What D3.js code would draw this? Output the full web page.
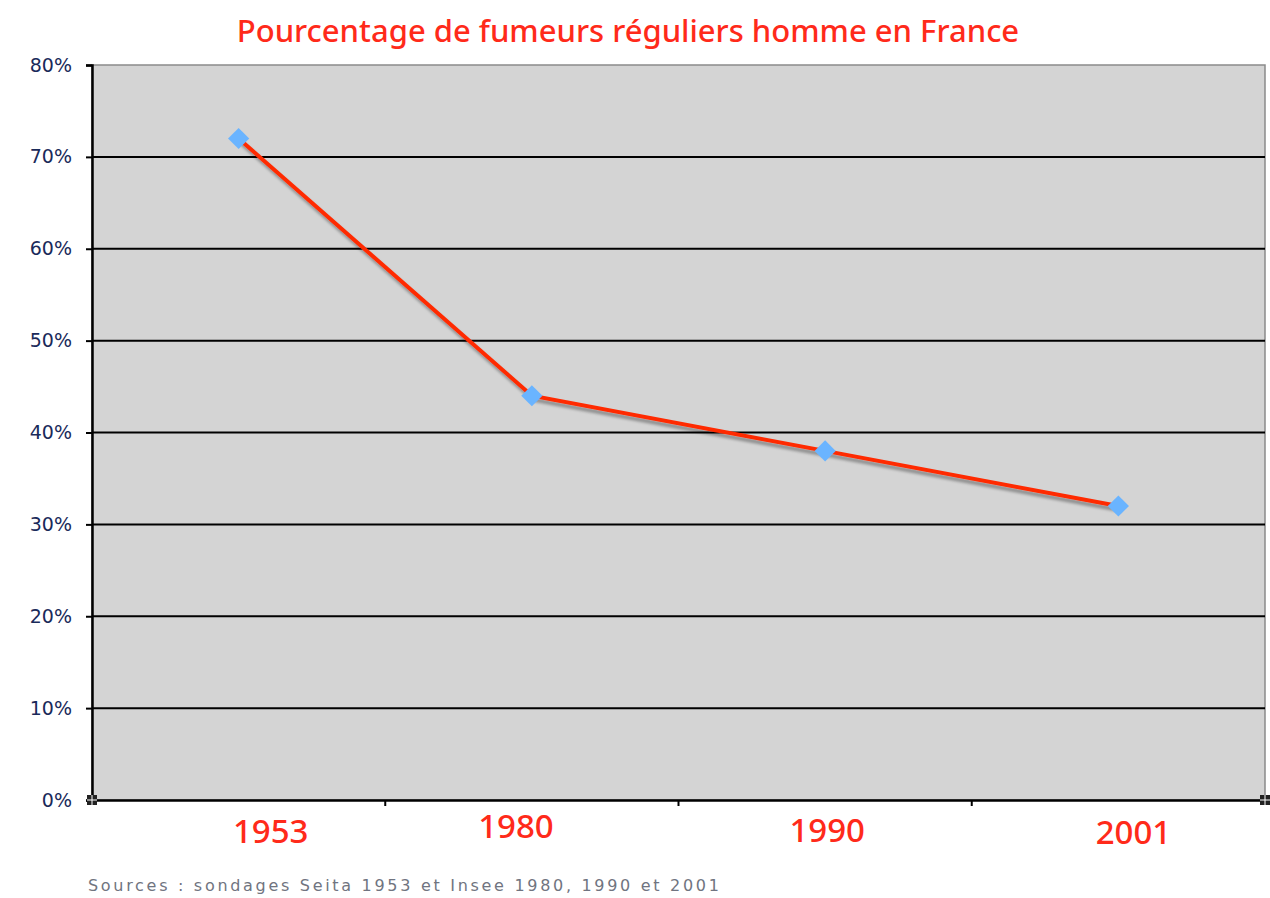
<!DOCTYPE html>
<html><head><meta charset="utf-8">
<script src="https://cdn.jsdelivr.net/npm/d3@7"></script>
<style>html,body{margin:0;padding:0;background:#fff;}svg{display:block;}</style>
</head><body>
<script>
const categories = ["1953", "1980", "1990", "2001"];
const values = [72, 44, 38, 32];
const yTicks = [0, 10, 20, 30, 40, 50, 60, 70, 80];
const titleText = "Pourcentage de fumeurs réguliers homme en France";
const sourceText = "Sources : sondages Seita 1953 et Insee 1980, 1990 et 2001";
// hand-placed label nudges seen in the original (layout only)
const labelDx = [32, -16, 2, 15];
const labelBaseline = [43, 38, 42, 44];

const W = 1270, H = 898;
const m = {left: 92, right: 5, top: 65, bottom: 98};
const svg = d3.select("body").append("svg").attr("width", W).attr("height", H);

const x = d3.scaleBand().domain(categories).range([m.left, W - m.right]);
const y = d3.scaleLinear().domain([0, 80]).range([H - m.bottom, m.top]);

const defs = svg.append("defs");
const f = defs.append("filter").attr("id","sh").attr("x","-10%").attr("y","-10%").attr("width","130%").attr("height","130%");
f.append("feGaussianBlur").attr("in","SourceAlpha").attr("stdDeviation",1.5).attr("result","b");
f.append("feOffset").attr("in","b").attr("dx",2).attr("dy",4).attr("result","o");
f.append("feComponentTransfer").attr("in","o").attr("result","o2").append("feFuncA").attr("type","linear").attr("slope",0.35);
const fm = f.append("feMerge"); fm.append("feMergeNode").attr("in","o2"); fm.append("feMergeNode").attr("in","SourceGraphic");

// plot background
svg.append("rect").attr("x", m.left).attr("y", m.top)
  .attr("width", W - m.right - m.left).attr("height", y(0) - m.top)
  .attr("fill", "#d4d4d4").attr("stroke", "#8a8a8a").attr("stroke-width", 1.5);

// gridlines
svg.append("g").selectAll("line").data(yTicks.filter(d => d > 0 && d < 80)).join("line")
  .attr("x1", m.left).attr("x2", W - m.right)
  .attr("y1", d => y(d)).attr("y2", d => y(d))
  .attr("stroke", "#000").attr("stroke-width", 2);

// y axis
const yAxis = svg.append("g").attr("transform", `translate(${m.left},0)`)
  .call(d3.axisLeft(y).tickValues(yTicks).tickFormat(d => d + "%").tickSize(6).tickPadding(14));
yAxis.select(".domain").attr("stroke", "#000").attr("stroke-width", 2.5);
yAxis.selectAll(".tick line").attr("stroke", "#000").attr("stroke-width", 2);
yAxis.selectAll("text").attr("font-family", "DejaVu Sans, Verdana, sans-serif")
  .attr("font-size", 19).attr("fill", "#1a2a5a");

// x axis
const xAxis = svg.append("g").attr("transform", `translate(0,${y(0)})`)
  .call(d3.axisBottom(x).tickSize(0).tickPadding(17));
xAxis.select(".domain").attr("stroke", "#000").attr("stroke-width", 2.5);
xAxis.selectAll("text")
  .attr("dy", 0)
  .attr("y", (d, i) => labelBaseline[i])
  .attr("dx", (d, i) => labelDx[i])
  .attr("font-family", "Noto Sans, sans-serif")
  .attr("font-size", 33).attr("font-weight", 500).attr("fill", "#ff2a1a");
// band boundary ticks
const bounds = categories.slice(1).map(c => x(c));
svg.append("g").selectAll("line").data(bounds).join("line")
  .attr("x1", d => d).attr("x2", d => d).attr("y1", y(0)).attr("y2", y(0) + 6)
  .attr("stroke", "#000").attr("stroke-width", 2);

// corner markers
[[m.left, y(0)], [W - m.right, y(0)]].forEach(([cx, cy]) => {
  svg.append("rect").attr("x", cx - 5).attr("y", cy - 5).attr("width", 10).attr("height", 10)
    .attr("fill", "#222");
  svg.append("line").attr("x1", cx - 5).attr("x2", cx + 5).attr("y1", cy).attr("y2", cy).attr("stroke", "#fff").attr("stroke-width", 1);
  svg.append("line").attr("x1", cx).attr("x2", cx).attr("y1", cy - 5).attr("y2", cy + 5).attr("stroke", "#fff").attr("stroke-width", 1);
});

// line
const pts = categories.map((c, i) => ({c, v: values[i]}));
const line = d3.line().x(d => x(d.c) + x.bandwidth() / 2).y(d => y(d.v));
svg.append("path").datum(pts).attr("d", line).attr("fill", "none")
  .attr("stroke", "#ff2a00").attr("stroke-width", 4).attr("filter", "url(#sh)");

// markers
svg.append("g").selectAll("path").data(pts).join("path")
  .attr("d", d3.symbol(d3.symbolSquare, 225))
  .attr("transform", d => `translate(${x(d.c) + x.bandwidth() / 2},${y(d.v)}) rotate(45)`)
  .attr("fill", "#6ab4ff");

// title
svg.append("text").attr("x", 628).attr("y", 42).attr("text-anchor", "middle")
  .attr("font-family", "Noto Sans, sans-serif").attr("font-size", 31).attr("font-weight", 500)
  .attr("fill", "#ff2a1a").text(titleText);

// sources
svg.append("text").attr("x", 88).attr("y", 891)
  .attr("font-family", "DejaVu Sans, Verdana, sans-serif").attr("font-size", 16)
  .attr("letter-spacing", 2.7)
  .attr("fill", "#707480").text(sourceText);
</script>
</body></html>
